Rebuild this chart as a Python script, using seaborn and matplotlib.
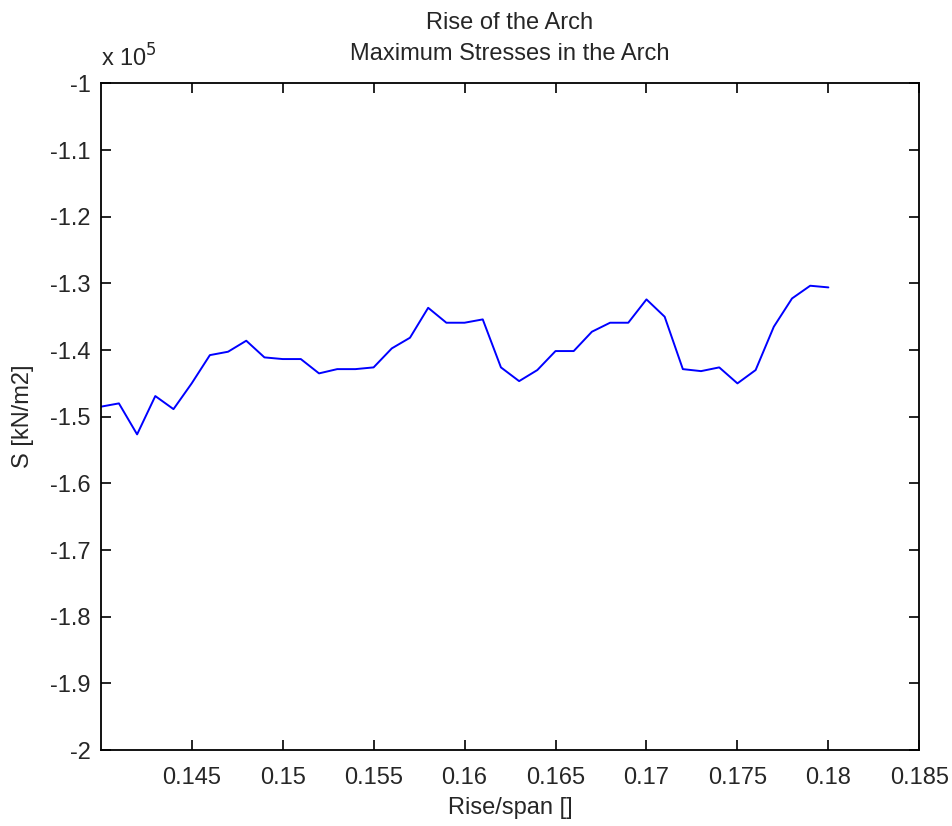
import numpy as np
import pandas as pd
import matplotlib
matplotlib.use("Agg")
import matplotlib.pyplot as plt
import seaborn as sns
from matplotlib.ticker import FuncFormatter, MultipleLocator

# Rise/span ratio and maximum arch stress [kN/m2]
rise_span = [0.140, 0.141, 0.142, 0.143, 0.144, 0.145, 0.146, 0.147, 0.148, 0.149,
             0.150, 0.151, 0.152, 0.153, 0.154, 0.155, 0.156, 0.157, 0.158, 0.159,
             0.160, 0.161, 0.162, 0.163, 0.164, 0.165, 0.166, 0.167, 0.168, 0.169,
             0.170, 0.171, 0.172, 0.173, 0.174, 0.175, 0.176, 0.177, 0.178, 0.179,
             0.180]
max_stress = [-148500, -148000, -152650, -146900, -148860, -145000, -140760, -140250,
              -138600, -141100, -141350, -141350, -143500, -142860, -142860, -142600,
              -139750, -138150, -133660, -135900, -135900, -135400, -142600, -144660,
              -143000, -140150, -140150, -137250, -135900, -135900, -132400, -135000,
              -142860, -143160, -142600, -145000, -143000, -136500, -132260, -130350,
              -130600]

x_ticks = [0.145, 0.15, 0.155, 0.16, 0.165, 0.17, 0.175, 0.18, 0.185]
x_tick_labels = ["0.145", "0.15", "0.155", "0.16", "0.165", "0.17", "0.175", "0.18", "0.185"]

df = pd.DataFrame({"rise_span": rise_span, "stress": max_stress})

sns.set_theme(style="white")
plt.rcParams["font.family"] = ["Liberation Sans", "DejaVu Sans"]

fs = 17
text_color = "#262626"

fig = plt.figure(figsize=(9.52, 8.26), dpi=100)
ax = fig.add_axes([0.1058, 0.092, 0.8599, 0.807])

sns.lineplot(data=df, x="rise_span", y="stress", ax=ax, color="#0000ff",
             linewidth=1.4, estimator=None, sort=False)

ax.set_xlim(0.14, 0.185)
ax.set_ylim(-2.0e5, -1.0e5)
ax.set_xticks(x_ticks)
ax.set_xticklabels(x_tick_labels)
ax.yaxis.set_major_locator(MultipleLocator(1e4))
ax.yaxis.set_major_formatter(FuncFormatter(lambda v, p: f"{v / 1e5:g}"))

ax.tick_params(direction="in", length=7, width=1.2, bottom=True, left=True,
               top=True, right=True, labelsize=fs, colors="black",
               labelcolor=text_color)
ax.tick_params(axis="x", pad=12)
ax.tick_params(axis="y", pad=7)
for s in ax.spines.values():
    s.set_visible(True)
    s.set_color("black")
    s.set_linewidth(1.3)

ax.set_xlabel("Rise/span []", fontsize=fs, color=text_color, labelpad=6)
ax.set_ylabel("S [kN/m2]", fontsize=fs, color=text_color, labelpad=12)
ax.set_title("Rise of the Arch\nMaximum Stresses in the Arch", fontsize=fs,
             color=text_color, pad=17, linespacing=1.5)
ax.text(0.0, 1.017, r"x 10$^5$", transform=ax.transAxes, fontsize=fs,
        color=text_color, ha="left", va="bottom")

fig.savefig("out.png", dpi=100, facecolor="white")
